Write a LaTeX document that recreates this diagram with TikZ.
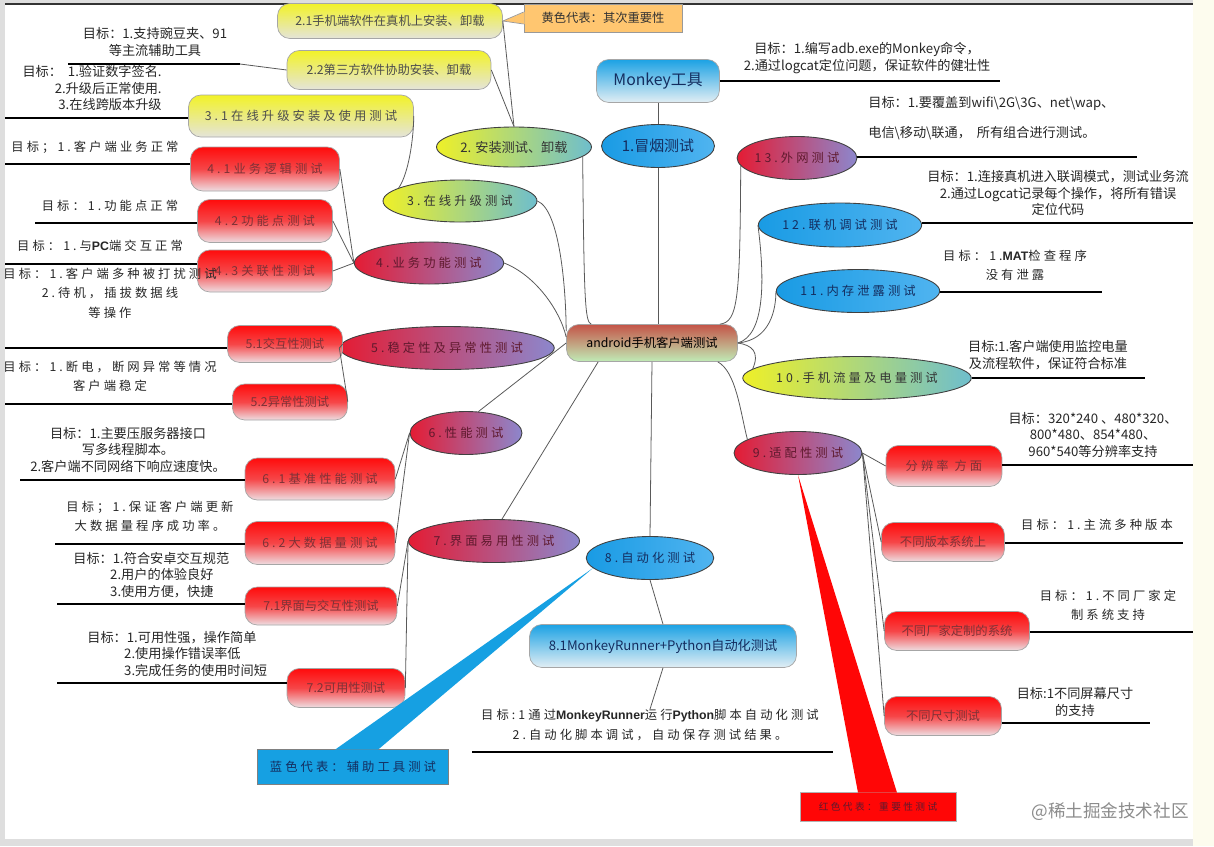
\documentclass[tikz,border=0pt]{standalone}
\usepackage{fontspec}
\setmainfont{Noto Sans CJK SC}
\newfontfamily\cjksp[LetterSpace=25]{Noto Sans CJK SC}
\newfontfamily\boldsans{Liberation Sans}
\usetikzlibrary{shapes.geometric,positioning,calc}

\definecolor{ovred}{RGB}{228,28,52}
\definecolor{ovpurple}{RGB}{140,135,205}
\definecolor{ovyellow}{RGB}{238,240,40}
\definecolor{ovteal}{RGB}{110,190,205}
\definecolor{ovblue}{RGB}{25,155,228}
\definecolor{ovblueR}{RGB}{80,180,240}
\definecolor{bxred}{RGB}{255,12,12}
\definecolor{bxredmid}{RGB}{246,70,72}
\definecolor{bxredbot}{RGB}{238,222,226}
\definecolor{bxyel}{RGB}{242,242,40}
\definecolor{bxyelbot}{RGB}{228,228,218}
\definecolor{bxblue}{RGB}{28,162,228}
\definecolor{bxbluebot}{RGB}{226,238,244}
\definecolor{ctrtop}{RGB}{196,84,72}
\definecolor{ctrbot}{RGB}{192,236,182}
\definecolor{calorange}{RGB}{255,198,112}
\definecolor{calblue}{RGB}{22,160,226}
\definecolor{calred}{RGB}{255,6,6}
\definecolor{pagecream}{RGB}{253,252,238}
\definecolor{txtred}{RGB}{95,25,45}
\definecolor{txtnavy}{RGB}{20,45,95}
\definecolor{txtbox}{RGB}{125,50,55}

\newcommand\fplain{\fontsize{7}{9}\selectfont}
\newcommand\fspaced{\cjksp\fontsize{7}{9}\selectfont}
\newcommand\fgoal{\fontsize{7.5}{9.5}\selectfont}
\newcommand\fgoalsp{\cjksp\fontsize{7}{11}\selectfont}
\newcommand\bsl{\textbackslash{}}

\tikzset{
  oval/.style={ellipse, draw=black!75, line width=0.5pt, inner sep=0pt, font=\fspaced},
  ovalred/.style={oval, left color=ovred, right color=ovpurple, text=txtred},
  ovalyel/.style={oval, left color=ovyellow, right color=ovteal, text=black!80},
  ovalblue/.style={oval, left color=ovblue, right color=ovblueR, text=txtnavy},
  tbox/.style={rectangle, rounded corners=7pt, draw=black!35, line width=0.4pt, inner sep=2pt, font=\fplain},
  boxred/.style={tbox, top color=bxred, bottom color=bxredbot, middle color=bxredmid, text=txtbox},
  boxyel/.style={tbox, top color=bxyel, bottom color=bxyelbot, text=black!70},
  boxblue/.style={tbox, top color=bxblue, bottom color=bxbluebot, text=txtnavy},
  goal/.style={align=center, inner sep=0pt, font=\fgoal, text=black!85},
  goalsp/.style={goal, font=\fgoalsp},
  link/.style={draw=black!65, line width=0.45pt},
  uline/.style={draw=black, line width=0.75pt},
  callout/.style={rectangle, inner sep=0pt, font=\fspaced}
}

\begin{document}
\begin{tikzpicture}[x=0.02cm,y=-0.02cm]
    \useasboundingbox (0,0) rectangle (1214,846);
    % page
    \fill[black!13] (0,0) rectangle (1214,846);
    \fill[pagecream] (1193,0) rectangle (1214,846);
    \fill[white] (5,4) rectangle (1193,839);
    \draw[black!80, line width=0.8pt] (5,4) -- (1193,4);

    % centre and first level
    \node[tbox, top color=ctrtop, bottom color=ctrbot, text=black, minimum width=3.42cm, minimum height=0.74cm] (ctr) at (652,343) {android手机客户端测试};

    \node[boxblue, font=\fontsize{9}{11}\selectfont, minimum width=2.46cm, minimum height=0.86cm] (nmk) at (658,81) {Monkey工具};
    \node[ovalblue, font=\fontsize{8.5}{10}\selectfont, minimum width=2.26cm, minimum height=0.86cm] (n1) at (658,146) {1.冒烟测试};
    \node[ovalyel, font=\fontsize{7.5}{9}\selectfont, minimum width=3.1cm, minimum height=0.8cm] (n2) at (514,147) {2. 安装测试、卸载};
    \node[ovalyel, minimum width=3.08cm, minimum height=0.84cm] (n3) at (460,201) {3.在线升级测试};
    \node[ovalred, minimum width=2.84cm, minimum height=0.84cm] (n4) at (429,263) {4.业务功能测试};
    \node[ovalred, minimum width=3.8cm, minimum height=0.86cm] (n5) at (447,348) {5.稳定性及异常性测试};
    \node[ovalred, minimum width=2.24cm, minimum height=0.86cm] (n6) at (466,433) {6.性能测试};
    \node[ovalred, minimum width=3.16cm, minimum height=0.86cm] (n7) at (494,541) {7.界面易用性测试};
    \node[ovalblue, minimum width=2.54cm, minimum height=0.86cm] (n8) at (650,558) {8.自动化测试};
    \node[ovalred, minimum width=2.56cm, minimum height=0.86cm] (n9) at (798,453) {9.适配性测试};
    \node[ovalyel, minimum width=3.9cm, minimum height=0.86cm] (n10) at (857,378) {10.手机流量及电量测试};
    \node[ovalblue, minimum width=3.0cm, minimum height=0.86cm] (n11) at (858,291) {11.内存泄露测试};
    \node[ovalblue, minimum width=3.0cm, minimum height=0.88cm] (n12) at (840,225) {12.联机调试测试};
    \node[ovalred, minimum width=2.38cm, minimum height=0.86cm] (n13) at (797,158) {13.外网测试};

    % second level
    \node[boxyel, minimum width=4.5cm, minimum height=0.7cm] (n21) at (390,21) {2.1手机端软件在真机上安装、卸载};
    \node[boxyel, minimum width=4.08cm, minimum height=0.78cm] (n22) at (389,70) {2.2第三方软件协助安装、卸载};
    \node[boxyel, font=\fspaced, minimum width=4.5cm, minimum height=0.84cm] (n31) at (301,116) {3.1在线升级安装及使用测试};
    \node[boxred, font=\fspaced, minimum width=2.98cm, minimum height=0.88cm] (n41) at (265,169) {4.1业务逻辑测试};
    \node[boxred, font=\fspaced, minimum width=2.7cm, minimum height=0.86cm] (n42) at (265,221) {4.2功能点测试};
    \node[boxred, font=\fspaced, minimum width=2.7cm, minimum height=0.84cm] (n43) at (265,271) {4.3关联性测试};
    \node[boxred, minimum width=2.3cm, minimum height=0.74cm] (n51) at (285,344) {5.1交互性测试};
    \node[boxred, minimum width=2.3cm, minimum height=0.72cm] (n52) at (290,402) {5.2异常性测试};
    \node[boxred, font=\fspaced, minimum width=3.0cm, minimum height=0.84cm] (n61) at (320,479) {6.1基准性能测试};
    \node[boxred, font=\fspaced, minimum width=3.0cm, minimum height=0.86cm] (n62) at (320,543) {6.2大数据量测试};
    \node[boxred, minimum width=3.04cm, minimum height=0.76cm] (n71) at (321,606) {7.1界面与交互性测试};
    \node[boxred, minimum width=2.36cm, minimum height=0.78cm] (n72) at (346,688) {7.2可用性测试};
    \node[boxblue, font=\fontsize{7.5}{9}\selectfont, minimum width=5.34cm, minimum height=0.86cm] (n81) at (663,646) {8.1MonkeyRunner+Python自动化测试};
    \node[boxred, font=\fspaced, minimum width=2.32cm, minimum height=0.82cm] (n9a) at (944,466) {分辨率 方面};
    \node[boxred, minimum width=2.46cm, minimum height=0.78cm] (n9b) at (943,542) {不同版本系统上};
    \node[boxred, minimum width=2.9cm, minimum height=0.78cm] (n9c) at (957,631) {不同厂家定制的系统};
    \node[boxred, minimum width=2.34cm, minimum height=0.78cm] (n9d) at (943,716) {不同尺寸测试};

    % goals
    \node[goal] (gm) at (867,58) {目标：1.编写adb.exe的Monkey命令，\\2.通过logcat定位问题，保证软件的健壮性};
    \node[goal, align=left, anchor=west] (g13) at (868,118) {目标：1.要覆盖到wifi\bsl 2G\bsl 3G、net\bsl wap、\\[8pt]电信\bsl 移动\bsl 联通，\ \ 所有组合进行测试。};
    \node[goal] (g12) at (1058,193) {目标：1.连接真机进入联调模式，测试业务流\\2.通过Logcat记录每个操作，将所有错误\\定位代码};
    \node[goalsp] (g11) at (1015,265) {目标：1.{\boldsans\bfseries MAT}检查程序\\没有泄露};
    \node[goal] (g10) at (1048,355) {目标:1.客户端使用监控电量\\及流程软件，保证符合标准};
    \node[goal] (g9a) at (1093,435) {目标：320*240 、480*320、\\800*480、854*480、\\960*540等分辨率支持};
    \node[goalsp] (g9b) at (1097,525) {目标：1.主流多种版本};
    \node[goalsp] (g9c) at (1108,605) {目标：1.不同厂家定\\制系统支持};
    \node[goal] (g9d) at (1075,702) {目标:1不同屏幕尺寸\\的支持};
    \node[goalsp] (g81) at (650,725) {目标:1通过{\boldsans\bfseries MonkeyRunner}运行{\boldsans\bfseries Python}脚本自动化测试\\2.自动化脚本调试，自动保存测试结果。};
    \node[goal] (g22) at (155,42) {目标：1.支持豌豆夹、91\\等主流辅助工具};
    \node[goal, align=right, anchor=east] (g31) at (162,88) {目标：\ \ 1.验证数字签名.\\2.升级后正常使用.\\3.在线跨版本升级};
    \node[goalsp] (g41) at (95,147) {目标；1.客户端业务正常};
    \node[goalsp] (g42) at (110,206) {目标：1.功能点正常};
    \node[goalsp] (g43) at (100,246) {目标：1.与{\boldsans\bfseries PC}端交互正常};
    \node[goalsp] (g51) at (110,293) {目标：1.客户端多种被打扰测试\\2.待机，插拔数据线\\等操作};
    \node[goalsp] (g52) at (110,376) {目标：1.断电，断网异常等情况\\客户端稳定};
    \node[goal] (g61) at (128,450) {目标：1.主要压服务器接口\\写多线程脚本。\\2.客户端不同网络下响应速度快。};
    \node[goalsp] (g62) at (150,516) {目标；1.保证客户端更新\\大数据量程序成功率。};
    \node[goal, align=left, anchor=west] (g71) at (73,575) {目标：1.符合安卓交互规范\\\hspace*{2.8em}2.用户的体验良好\\\hspace*{2.8em}3.使用方便，快捷};
    \node[goal, align=left, anchor=west] (g72) at (87,654) {目标：1.可用性强，操作简单\\\hspace*{2.8em}2.使用操作错误率低\\\hspace*{2.8em}3.完成任务的使用时间短};

    % legend boxes
    \node[callout, fill=calorange, draw=black!40, font=\fplain, text=black!80, minimum width=3.16cm, minimum height=0.56cm] (ycall) at (603,18) {黄色代表：其次重要性};
    \node[callout, fill=calblue, draw=black!50, text=txtnavy, minimum width=3.82cm, minimum height=0.7cm] (bcall) at (353,767) {蓝色代表：辅助工具测试};
    \node[callout, fill=calred, draw=black!30, font=\cjksp\fontsize{5.5}{7}\selectfont, text=txtred, minimum width=3.12cm, minimum height=0.58cm] (rcall) at (878,807) {红色代表：重要性测试};
    \node[text=black!45, font=\fontsize{10}{12}\selectfont] (wm) at (1110,812) {@稀土掘金技术社区};

    % links to centre
    \draw[link] (nmk.south) -- (n1.north);
    \draw[link] (n1.south) -- (n1.south |- ctr.north);
    \draw[link] (n2.-8) .. controls (584,300) and (585,322) .. ($(ctr.north west)+(25,0)$);
    \draw[link] (n3.east) .. controls (560,210) and (566,290) .. ($(ctr.west)+(0,-12)$);
    \draw[link] (n4.east) .. controls (535,275) and (560,310) .. ($(ctr.west)+(0,-6)$);
    \draw[link] (ctr.west) -- (n6.60);
    \draw[link] ($(ctr.south west)+(32,0)$) -- (n7.70);
    \draw[link] (ctr.south) -- (n8.north);
    \draw[link] ($(ctr.south east)+(-20,0)$) .. controls (736,372) and (740,410) .. (n9.165);
    \draw[link] (ctr.east) .. controls (752,345) and (760,352) .. (n10.175);
    \draw[link] (ctr.east) .. controls (770,340) and (776,310) .. (n11.west);
    \draw[link] (ctr.east) .. controls (765,335) and (765,280) .. (n12.west);
    \draw[link] (n13.188) .. controls (740,300) and (738,322) .. ($(ctr.north east)+(-18,0)$);

    % links to second level
    \draw[link] (n21.east) -- (n2.north);
    \draw[link] (n22.east) -- (n2.north);
    \draw[link] (n31.east) .. controls (413,150) and (406,178) .. (n3.168);
    \draw[link] (n41.east) -- (n4.west);
    \draw[link] (n42.east) -- (n4.west);
    \draw[link] (n43.east) -- (n4.west);
    \draw[link] (n51.east) -- (n5.west);
    \draw[link] (n52.east) -- (n5.west);
    \draw[link] (n61.east) -- (n6.west);
    \draw[link] (n62.east) -- (n6.west);
    \draw[link] (n71.east) -- (n7.west);
    \draw[link] (n72.east) -- (n7.west);
    \draw[link] (n8.south) -- (n81.north);
    \draw[link] (n81.south) -- (g81.north);
    \draw[link] (n9.east) -- (n9a.west);
    \draw[link] (n9.east) -- (n9b.west);
    \draw[link] (n9.east) -- (n9c.west);
    \draw[link] (n9.east) -- (n9d.west);

    % underlines
    \coordinate (um) at (1000,81);
    \coordinate (u13) at (1137,157);
    \coordinate (u12) at (1193,223);
    \coordinate (u11) at (1102,292);
    \coordinate (u10) at (1145,378);
    \coordinate (u9a) at (1193,465);
    \coordinate (u9b) at (1183,543);
    \coordinate (u9c) at (1193,632);
    \coordinate (u9d) at (1150,723);
    \draw[uline] (nmk.east) -- (um);
    \draw[uline] (u13 -| n13.east) -- (u13);
    \draw[uline] (u12 -| n12.east) -- (u12);
    \draw[uline] (u11 -| n11.east) -- (u11);
    \draw[uline] (u10 -| n10.east) -- (u10);
    \draw[uline] (u9a -| n9a.east) -- (u9a);
    \draw[uline] (u9b -| n9b.east) -- (u9b);
    \draw[uline] (u9c -| n9c.east) -- (u9c);
    \draw[uline] (u9d -| n9d.east) -- (u9d);

    \coordinate (u22) at (68,64);
    \coordinate (u22b) at (240,64);
    \coordinate (u31) at (5,118);
    \coordinate (u41) at (5,164);
    \coordinate (u42) at (35,223);
    \coordinate (u43) at (5,264);
    \coordinate (u51) at (5,348);
    \coordinate (u52) at (5,404);
    \coordinate (u61) at (20,480);
    \coordinate (u62) at (55,544);
    \coordinate (u71) at (57,604);
    \coordinate (u72) at (57,683);
    \draw[uline] (u22) -- (u22b);
    \draw[link] (u22b) -- (n22.west);
    \draw[uline] (u31) -- (u31 -| n31.west);
    \draw[uline] (u41) -- (u41 -| n41.west);
    \draw[uline] (u42) -- (u42 -| n42.west);
    \draw[uline] (u43) -- (u43 -| n43.west);
    \draw[uline] (u51) -- (u51 -| n51.west);
    \draw[uline] (u52) -- (u52 -| n52.west);
    \draw[uline] (u61) -- (u61 -| n61.west);
    \draw[uline] (u62) -- (u62 -| n62.west);
    \draw[uline] (u71) -- (u71 -| n71.west);
    \draw[uline] (u72) -- (u72 -| n72.west);

    \coordinate (u81a) at (472,752);
    \coordinate (u81b) at (833,752);
    \draw[uline] (u81a) -- (u81b);

    % legend pointers
    \fill[calorange] ($(ycall.west)+(1,-6)$) -- (n21.east) -- ($(ycall.west)+(1,6)$) -- cycle;
    \draw[black!40, line width=0.4pt] ($(ycall.west)+(0,-6)$) -- (n21.east) -- ($(ycall.west)+(0,6)$);
    \fill[calblue] ($(bcall.north)+(-18,0.5)$) -- (n8.190) -- ($(bcall.north)+(25,0.5)$) -- cycle;
    \fill[calred] ($(rcall.north)+(-20,0.5)$) -- (n9.south) -- ($(rcall.north)+(19,0.5)$) -- cycle;
\end{tikzpicture}
\end{document}
